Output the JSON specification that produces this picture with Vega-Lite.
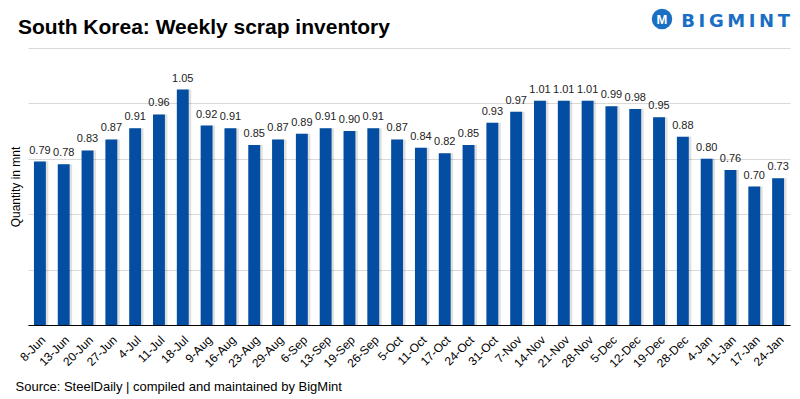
{
  "$schema": "https://vega.github.io/schema/vega-lite/v6.json",
  "autosize": {"type": "none"},
  "width": 762,
  "height": 277,
  "padding": {"left": 28, "top": 48, "right": 10, "bottom": 74},
  "background": "white",
  "config": {
    "font": "Liberation Sans",
    "view": {"stroke": null}
  },
  "title": {
    "text": "South Korea: Weekly scrap inventory",
    "fontSize": 21,
    "fontWeight": "bold",
    "color": "#000000",
    "anchor": "start",
    "frame": "group",
    "dx": -10,
    "baseline": "alphabetic",
    "offset": 0,
    "dy": 46.5
  },
  "data": {
    "values": [
      {"week": "8-Jun", "value": 0.79},
      {"week": "13-Jun", "value": 0.78},
      {"week": "20-Jun", "value": 0.83},
      {"week": "27-Jun", "value": 0.87},
      {"week": "4-Jul", "value": 0.91},
      {"week": "11-Jul", "value": 0.96},
      {"week": "18-Jul", "value": 1.05},
      {"week": "9-Aug", "value": 0.92},
      {"week": "16-Aug", "value": 0.91},
      {"week": "23-Aug", "value": 0.85},
      {"week": "29-Aug", "value": 0.87},
      {"week": "6-Sep", "value": 0.89},
      {"week": "13-Sep", "value": 0.91},
      {"week": "19-Sep", "value": 0.90},
      {"week": "26-Sep", "value": 0.91},
      {"week": "5-Oct", "value": 0.87},
      {"week": "11-Oct", "value": 0.84},
      {"week": "17-Oct", "value": 0.82},
      {"week": "24-Oct", "value": 0.85},
      {"week": "31-Oct", "value": 0.93},
      {"week": "7-Nov", "value": 0.97},
      {"week": "14-Nov", "value": 1.01},
      {"week": "21-Nov", "value": 1.01},
      {"week": "28-Nov", "value": 1.01},
      {"week": "5-Dec", "value": 0.99},
      {"week": "12-Dec", "value": 0.98},
      {"week": "19-Dec", "value": 0.95},
      {"week": "28-Dec", "value": 0.88},
      {"week": "4-Jan", "value": 0.80},
      {"week": "11-Jan", "value": 0.76},
      {"week": "17-Jan", "value": 0.70},
      {"week": "24-Jan", "value": 0.73}
    ]
  },
  "encoding": {
    "x": {
      "field": "week",
      "type": "nominal",
      "sort": null,
      "scale": {"paddingInner": 0.5, "paddingOuter": 0.25},
      "axis": {
        "title": "Source: SteelDaily | compiled and maintained by BigMint",
        "titleFontSize": 13,
        "titleFontWeight": "normal",
        "titleColor": "#000000",
        "titleAnchor": "start",
        "titleAlign": "left",
        "titleX": -13,
        "titleY": 65,
        "titleBaseline": "alphabetic",
        "labelAngle": -45,
        "labelFontSize": 12,
        "labelColor": "#000000",
        "labelPadding": 9,
        "ticks": false,
        "domainColor": "#000000",
        "domainWidth": 1
      }
    },
    "y": {
      "field": "value",
      "type": "quantitative",
      "scale": {"domain": [0.2, 1.2], "zero": false, "nice": false},
      "axis": {
        "title": "Quantity in mnt",
        "titleFontSize": 12,
        "titleFontWeight": "normal",
        "titleColor": "#000000",
        "titlePadding": 6,
        "values": [0.2, 0.4, 0.6, 0.8, 1.0, 1.2],
        "labels": false,
        "ticks": false,
        "domain": false,
        "grid": true,
        "gridColor": "#d9d9d9"
      }
    }
  },
  "layer": [
    {
      "mark": {"type": "bar", "color": "#000000", "opacity": 0.12, "xOffset": 2.5, "clip": true}
    },
    {
      "mark": {"type": "bar", "color": "#034EA2", "clip": true}
    },
    {
      "mark": {"type": "text", "baseline": "bottom", "dy": -6, "fontSize": 11, "color": "#222222"},
      "encoding": {"text": {"field": "value", "type": "quantitative", "format": ".2f"}}
    },
    {
      "data": {"values": [{"logo": "B\u2009I\u2009G\u2009M\u2009I\u2009N\u2009T"}]},
      "mark": {"type": "text", "align": "right", "baseline": "alphabetic", "font": "DejaVu Sans", "fontWeight": "bold", "fontSize": 18, "color": "#1a6fc4", "x": {"expr": "width"}, "y": -21},
      "encoding": {"text": {"field": "logo"}, "x": null, "y": null}
    },
    {
      "data": {"values": [{"logo": "icon"}]},
      "mark": {"type": "point", "filled": true, "shape": "circle", "size": 420, "color": "#1a6fc4", "opacity": 1, "x": {"expr": "width - 128"}, "y": -29},
      "encoding": {"x": null, "y": null}
    },
    {
      "data": {"values": [{"logo": "M"}]},
      "mark": {"type": "text", "align": "center", "baseline": "middle", "fontWeight": "bold", "fontSize": 13, "color": "white", "x": {"expr": "width - 128"}, "y": -28},
      "encoding": {"text": {"field": "logo"}, "x": null, "y": null}
    }
  ]
}
